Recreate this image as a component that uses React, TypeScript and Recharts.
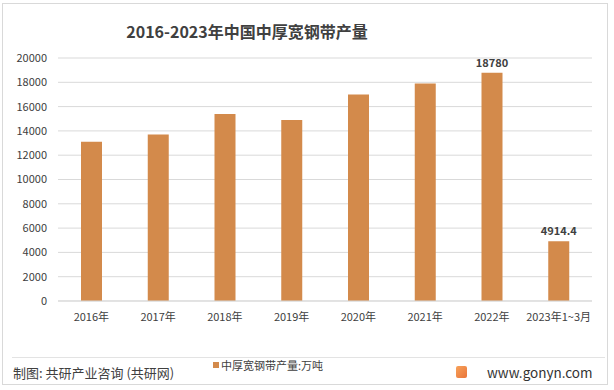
import React from "react";
import { BarChart, Bar, XAxis, YAxis, CartesianGrid, LabelList } from "recharts";

const years = ["2016年", "2017年", "2018年", "2019年", "2020年", "2021年", "2022年", "2023年1~3月"];
const output = [13100, 13700, 15400, 14900, 17000, 17900, 18780, 4914.4];
const shownLabels = ["", "", "", "", "", "", "18780", "4914.4"];
const yTicks = [0, 2000, 4000, 6000, 8000, 10000, 12000, 14000, 16000, 18000, 20000];

const seriesName = "中厚宽钢带产量:万吨";
const barColor = "#D38A4B";
const font = "'Noto Sans CJK SC', 'Noto Sans', sans-serif";

const data = years.map((year, i) => ({ year, value: output[i], label: shownLabels[i] }));

export default function App() {
  return (
    <div style={{ position: "absolute", left: 0, top: 0, width: 614, height: 390, background: "#fff", fontFamily: font }}>
      <div
        style={{
          position: "absolute",
          left: 2,
          top: 3,
          width: 604,
          height: 380,
          border: "1px solid #D9D9D9",
        }}
      />
      <div
        style={{
          position: "absolute",
          left: 0,
          width: 494,
          top: 19,
          textAlign: "center",
          fontSize: 16,
          fontWeight: 700,
          color: "#404040",
        }}
      >
        2016-2023年中国中厚宽钢带产量
      </div>
      <BarChart
        width={614}
        height={390}
        data={data}
        margin={{ top: 58, right: 22, bottom: 59, left: 0 }}
        style={{ position: "absolute", left: 0, top: 0 }}
      >
        <CartesianGrid vertical={false} stroke="#D9D9D9" />
        <XAxis
          dataKey="year"
          axisLine={{ stroke: "#D9D9D9" }}
          tickLine={false}
          height={30}
          interval={0}
          tick={{ fontSize: 11, fill: "#404040", fontFamily: font }}
          tickMargin={6}
        />
        <YAxis
          width={58}
          domain={[0, 20000]}
          ticks={yTicks}
          axisLine={false}
          tickLine={false}
          tick={{ fontSize: 11, fill: "#404040", fontFamily: font }}
          tickMargin={5}
        />
        <Bar dataKey="value" name={seriesName} fill={barColor} barSize={21} isAnimationActive={false}>
          <LabelList
            dataKey="label"
            position="top"
            offset={6}
            style={{ fontSize: 11, fontWeight: 600, fill: "#404040", fontFamily: font }}
          />
        </Bar>
      </BarChart>
      <div
        style={{
          position: "absolute",
          left: 213,
          top: 357,
          display: "flex",
          alignItems: "center",
          fontSize: 11,
          color: "#404040",
        }}
      >
        <span style={{ width: 6, height: 6, background: barColor, marginRight: 2, display: "inline-block" }} />
        {seriesName}
      </div>
      <div
        style={{
          position: "absolute",
          left: 12,
          top: 357,
          width: 593,
          height: 1,
          background: "#E3E3E3",
        }}
      />
      <div style={{ position: "absolute", left: 13, top: 363, fontSize: 13, color: "#404040" }}>
        制图: 共研产业咨询 (共研网)
      </div>
      <div
        style={{
          position: "absolute",
          left: 456,
          top: 366,
          width: 11,
          height: 12,
          borderRadius: 2,
          background: "linear-gradient(135deg, #F7A25A, #E9743A)",
        }}
      />
      <div style={{ position: "absolute", left: 487, top: 362, fontSize: 13.5, color: "#333" }}>www.gonyn.com</div>
    </div>
  );
}
